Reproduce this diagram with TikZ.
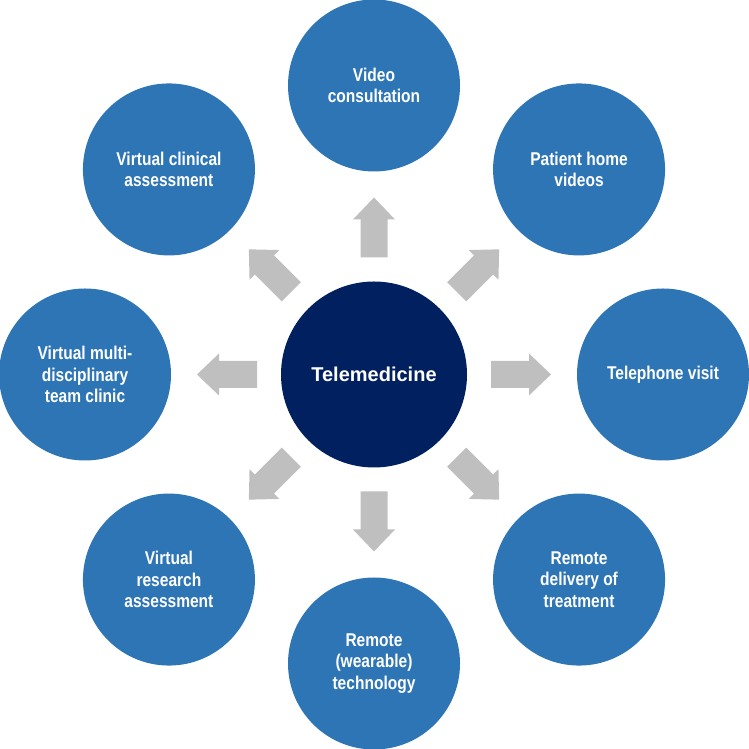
\documentclass[tikz,border=0pt]{standalone}
\usepackage{fontspec}
\usetikzlibrary{calc}
\setmainfont{Liberation Sans}
\newfontfamily\narrowbold[FakeStretch=0.84]{Liberation Sans Bold}
\definecolor{outerblue}{HTML}{2E75B6}
\definecolor{navy}{HTML}{002060}
\definecolor{arrowgray}{HTML}{BFBFBF}
\begin{document}
\begin{tikzpicture}[x=1pt,y=1pt,
  outercirc/.style={circle,fill=outerblue,minimum size=172pt,inner sep=0pt,
    text=white,align=center,font=\narrowbold\fontsize{18.5}{21.5}\selectfont},
  centercirc/.style={circle,fill=navy,minimum size=186pt,inner sep=0pt,
    text=white,font=\bfseries\fontsize{20}{23}\selectfont},
  blockarrow/.pic={\fill[arrowgray] (117,-13.5) -- (155,-13.5) -- (155,-21) -- (177,0) -- (155,21) -- (155,13.5) -- (117,13.5) -- cycle;}
]
\useasboundingbox (0,0) rectangle (748,749);
\coordinate (c) at (374,374.5);
\node[centercirc] (tele) at (c) {Telemedicine};
\node[outercirc] (n90) at ($(c)+(90:289)$) {Video\\consultation};
\node[outercirc] (n45) at ($(c)+(45:290)$) {Patient home\\videos};
\node[outercirc] (n0) at ($(c)+(0:289)$) {Telephone visit};
\node[outercirc] (n315) at ($(c)+(-45:290)$) {Remote\\delivery of\\treatment};
\node[outercirc] (n270) at ($(c)+(-90:289)$) {Remote\\(wearable)\\technology};
\node[outercirc] (n225) at ($(c)+(-135:290)$) {Virtual\\research\\assessment};
\node[outercirc] (n180) at ($(c)+(180:289)$) {Virtual multi-\\disciplinary\\team clinic};
\node[outercirc] (n135) at ($(c)+(135:290)$) {Virtual clinical\\assessment};
\foreach \a in {0,45,...,315} {
  \pic[rotate=\a] at (c) {blockarrow};
}
\end{tikzpicture}
\end{document}
